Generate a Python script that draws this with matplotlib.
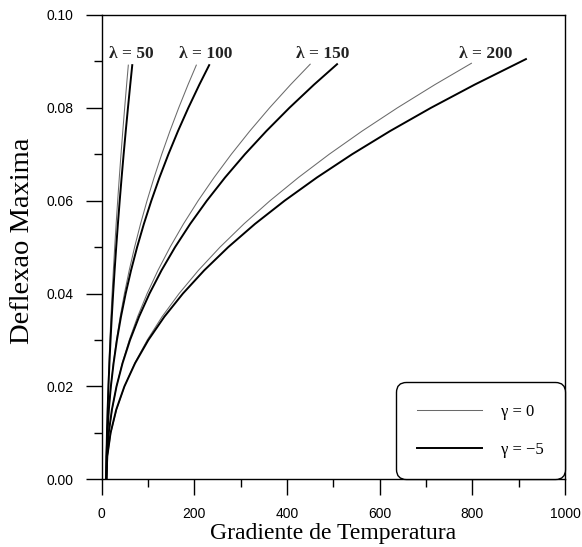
import matplotlib
matplotlib.use("Agg")
import matplotlib.pyplot as plt
from matplotlib.ticker import MultipleLocator

# ---------------- data ----------------
# deflection levels at which the curves were read
y_levels = [0, 0.005, 0.01, 0.015, 0.02, 0.025, 0.03, 0.035, 0.04, 0.045,
            0.05, 0.055, 0.06, 0.065, 0.07, 0.075, 0.08, 0.085]

# gamma = 0 (thin grey lines): temperature gradient at each level + end point
x50_g0 = [10, 10.39, 11.24, 12.43, 13.93, 15.70, 17.72, 19.99, 22.48, 25.19,
          28.10, 31.21, 34.53, 38.03, 41.71, 45.58, 49.62, 53.83, 57.5]
y50_g0 = y_levels + [0.0892]
x100_g0 = [10, 10.61, 12.44, 15.49, 19.77, 25.26, 31.97, 39.91, 49.06, 59.44,
           71.04, 83.85, 97.89, 113.15, 129.63, 147.33, 166.25, 186.4, 204.25]
y100_g0 = y_levels + [0.0892]
x150_g0 = [10, 11.38, 15.5, 22.39, 32.02, 44.41, 59.55, 77.44, 98.08, 121.48,
           147.63, 176.53, 208.19, 242.59, 279.75, 319.66, 362.32, 407.74, 450]
y150_g0 = y_levels + [0.0894]
x200_g0 = [10, 12.45, 19.82, 32.09, 49.26, 71.35, 98.34, 130.24, 167.05, 208.77,
           255.39, 306.93, 363.36, 424.71, 490.97, 562.13, 638.2, 719.18, 798]
y200_g0 = y_levels + [0.0896]

# gamma = -5 (thick black lines)
x50_g5 = [10, 10.46, 11.46, 12.87, 14.63, 16.72, 19.11, 21.78, 24.71, 27.90,
          31.34, 35.01, 38.92, 43.05, 47.39, 51.94, 56.72, 61.68, 66]
y50_g5 = y_levels + [0.0892]
x100_g5 = [10, 10.55, 12.33, 15.41, 19.85, 25.68, 32.93, 41.62, 51.76, 63.38,
           76.48, 91.07, 107.19, 124.8, 144.0, 164.7, 187.0, 210.8, 232]
y100_g5 = y_levels + [0.0892]
x150_g5 = [10, 11.22, 15.19, 22.08, 32.0, 45.02, 61.2, 80.6, 103.21, 129.15,
           158.41, 191.0, 226.97, 266.3, 309.1, 355.4, 405.1, 458.3, 508]
y150_g5 = y_levels + [0.0894]
x200_g5 = [10, 12.17, 19.2, 31.42, 49.01, 72.1, 100.76, 135.17, 175.3, 221.3,
           273.1, 330.9, 394.8, 464.6, 540.4, 622.4, 710.6, 805.0, 915.7]
y200_g5 = y_levels + [0.0905]

lambda_labels = ["\u03bb = 50", "\u03bb = 100", "\u03bb = 150", "\u03bb = 200"]
lambda_label_x = [65, 225, 476, 828]
lambda_label_y = 0.0917

legend_labels = ["\u03b3 = 0", "\u03b3 = \u22125"]
xlabel = "Gradiente de Temperatura"
ylabel = "Deflexao Maxima"

# ---------------- figure ----------------
fig = plt.figure(figsize=(5.82, 5.47), dpi=100)
ax = fig.add_axes([0.1747, 0.1238, 0.9708 - 0.1747, 0.9726 - 0.1238])

thin = dict(color="#6a6a6a", lw=0.75)
thick = dict(color="black", lw=1.4)

g0 = [(x50_g0, y50_g0), (x100_g0, y100_g0), (x150_g0, y150_g0), (x200_g0, y200_g0)]
g5 = [(x50_g5, y50_g5), (x100_g5, y100_g5), (x150_g5, y150_g5), (x200_g5, y200_g5)]

for i, (xs, ys) in enumerate(g0):
    ax.plot(xs, ys, label=legend_labels[0] if i == 0 else None, **thin)
for i, (xs, ys) in enumerate(g5):
    ax.plot(xs, ys, label=legend_labels[1] if i == 0 else None, **thick)

for lab, lx in zip(lambda_labels, lambda_label_x):
    ax.text(lx, lambda_label_y, lab, ha="center", va="center",
            family="Liberation Serif", fontsize=12.5, fontweight="bold",
            color="#222222")

ax.set_xlim(0, 1000)
ax.set_ylim(0, 0.10)
ax.xaxis.set_major_locator(MultipleLocator(200))
ax.xaxis.set_minor_locator(MultipleLocator(100))
ax.yaxis.set_major_locator(MultipleLocator(0.02))
ax.yaxis.set_minor_locator(MultipleLocator(0.01))
ax.yaxis.set_major_formatter(plt.FuncFormatter(lambda v, p: f"{v:.2f}"))

ax.tick_params(which="both", direction="out", top=False, right=False,
               labelfontfamily="Liberation Sans", labelsize=10)
ax.tick_params(which="major", length=11.3, width=1.0, pad=9)
ax.tick_params(which="minor", length=5.6, width=1.0)
for s in ax.spines.values():
    s.set_linewidth(1.0)

ax.set_xlabel(xlabel, family="Liberation Serif", fontsize=17, labelpad=1)
ax.set_ylabel(ylabel, family="Liberation Serif", fontsize=20.5)
ax.yaxis.set_label_coords(-0.1442, 0.513)

leg = ax.legend(loc="lower right", borderaxespad=0, frameon=True, fancybox=True,
                prop={"family": "Liberation Serif", "size": 12},
                handlelength=3.9, handletextpad=1.1, labelspacing=1.3,
                borderpad=1.3, framealpha=1, edgecolor="black")
frame = leg.get_frame()
frame.set_linewidth(1.0)
frame.set_boxstyle("round", pad=0, rounding_size=0.6)

fig.savefig("out.png", dpi=100)
